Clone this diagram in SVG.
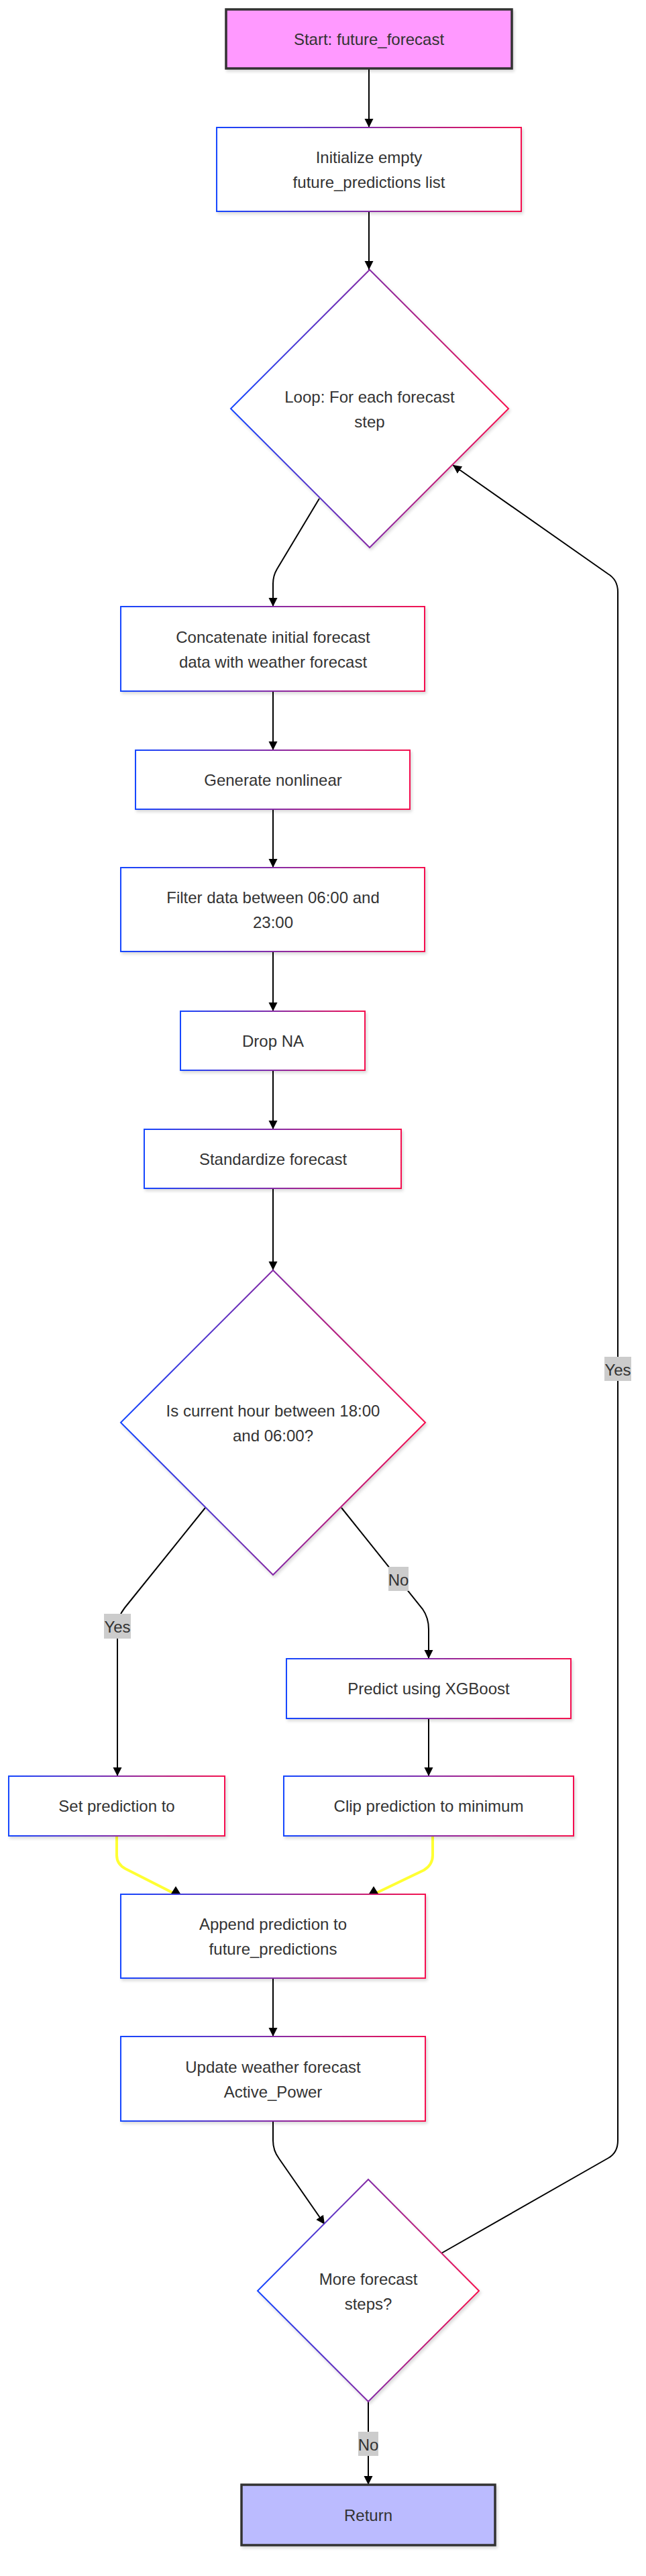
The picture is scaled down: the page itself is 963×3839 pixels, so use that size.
<svg xmlns="http://www.w3.org/2000/svg" width="963" height="3839" viewBox="0 0 963 3839">
<style>
.n{fill:#ffffff;stroke:url(#g);stroke-width:2;filter:url(#sh)}
.term{stroke:#333333;stroke-width:3.5;filter:url(#sh)}
.t{font-family:"Liberation Sans",Arial,Helvetica,sans-serif;font-size:24px;fill:#333333;text-anchor:middle;dominant-baseline:central}
.e{fill:none;stroke:#000000;stroke-width:2;marker-end:url(#arr)}
.y{fill:none;stroke:#ffff33;stroke-width:4;marker-end:url(#arrUp)}
.lb{fill:#cccccc}
</style>
<defs>
<linearGradient id="g" x1="0" y1="0" x2="1" y2="0">
<stop offset="0" stop-color="#1546ff"/>
<stop offset="1" stop-color="#f5114f"/>
</linearGradient>
<filter id="sh" x="-10%" y="-10%" width="120%" height="120%">
<feDropShadow dx="2" dy="3" stdDeviation="2" flood-color="#000000" flood-opacity="0.15"/>
</filter>
<marker id="arr" markerUnits="userSpaceOnUse" markerWidth="14" markerHeight="14" refX="13" refY="6.5" orient="auto">
<path d="M0,0 L13,6.5 L0,13 z" fill="#000000"/>
</marker>
<marker id="arrUp" markerUnits="userSpaceOnUse" markerWidth="16" markerHeight="16" refX="0" refY="7.5" orient="-90">
<path d="M0,0 L12,7.5 L0,15 z" fill="#000000"/>
</marker>
</defs>
<rect width="963" height="3839" fill="#ffffff"/>
<g id="connectors">
<path class="e" d="M550,102 L550,190"/>
<path class="e" d="M550,315 L550,402"/>
<path class="e" d="M476,743 L413,848 Q407,858 407,870 L407,904"/>
<path class="e" d="M407,1030 L407,1118"/>
<path class="e" d="M407,1206 L407,1293"/>
<path class="e" d="M407,1418 L407,1507"/>
<path class="e" d="M407,1595 L407,1683"/>
<path class="e" d="M407,1771 L407,1893"/>
<path class="e" d="M306,2247 L186,2396 Q175,2410 175,2425 L175,2647"/>
<path class="e" d="M509,2247 L630,2398 Q639,2411 639,2428 L639,2472"/>
<path class="e" d="M639,2561 L639,2647"/>
<path class="y" d="M174,2736 L174,2765 Q174,2778 187,2785 L262,2823"/>
<path class="y" d="M645,2736 L645,2765 Q645,2779 632,2787 L557,2823"/>
<path class="e" d="M407,2948 L407,3035"/>
<path class="e" d="M407,3161 L407,3190 Q407,3205 416,3217 L484,3315"/>
<path class="e" d="M658,3358 L907,3216 Q921,3208 921,3190 L921,882 Q921,864 906,855 L675,693"/>
<path class="e" d="M549,3579 L549,3703"/>
<rect class="lb" x="155" y="2405" width="40" height="37"/>
<text class="t" x="175" y="2424">Yes</text>
<rect class="lb" x="579" y="2335" width="30" height="36"/>
<text class="t" x="594" y="2354">No</text>
<rect class="lb" x="901" y="2022" width="40" height="36"/>
<text class="t" x="921" y="2041">Yes</text>
<rect class="lb" x="534" y="3624" width="30" height="36"/>
<text class="t" x="549" y="3643">No</text>
</g>
<g id="start">
<rect class="term" x="337" y="14" width="426" height="88" fill="#ff99ff"/>
<text class="t" x="550" y="58">Start: future_forecast</text>
</g>
<g id="init">
<rect class="n" x="323" y="190" width="454" height="125"/>
<text class="t" x="550" y="234">Initialize empty</text>
<text class="t" x="550" y="271">future_predictions list</text>
</g>
<g id="loop">
<polygon class="n" points="551,402 758,609 551,816 344,609"/>
<text class="t" x="551" y="591">Loop: For each forecast</text>
<text class="t" x="551" y="628">step</text>
</g>
<g id="concat">
<rect class="n" x="180" y="904" width="453" height="126"/>
<text class="t" x="407" y="949">Concatenate initial forecast</text>
<text class="t" x="407" y="986">data with weather forecast</text>
</g>
<g id="generate">
<rect class="n" x="202" y="1118" width="409" height="88"/>
<text class="t" x="407" y="1162">Generate nonlinear</text>
</g>
<g id="filter">
<rect class="n" x="180" y="1293" width="453" height="125"/>
<text class="t" x="407" y="1337">Filter data between 06:00 and</text>
<text class="t" x="407" y="1374">23:00</text>
</g>
<g id="dropna">
<rect class="n" x="269" y="1507" width="275" height="88"/>
<text class="t" x="407" y="1551">Drop NA</text>
</g>
<g id="standardize">
<rect class="n" x="215" y="1683" width="383" height="88"/>
<text class="t" x="407" y="1727">Standardize forecast</text>
</g>
<g id="hourcheck">
<polygon class="n" points="407,1893 634,2120 407,2347 180,2120"/>
<text class="t" x="407" y="2102">Is current hour between 18:00</text>
<text class="t" x="407" y="2139">and 06:00?</text>
</g>
<g id="predict">
<rect class="n" x="427" y="2472" width="424" height="89"/>
<text class="t" x="639" y="2516">Predict using XGBoost</text>
</g>
<g id="setpred">
<rect class="n" x="13" y="2647" width="322" height="89"/>
<text class="t" x="174" y="2691">Set prediction to</text>
</g>
<g id="clip">
<rect class="n" x="423" y="2647" width="432" height="89"/>
<text class="t" x="639" y="2691">Clip prediction to minimum</text>
</g>
<g id="append">
<rect class="n" x="180" y="2823" width="454" height="125"/>
<text class="t" x="407" y="2867">Append prediction to</text>
<text class="t" x="407" y="2904">future_predictions</text>
</g>
<g id="update">
<rect class="n" x="180" y="3035" width="454" height="126"/>
<text class="t" x="407" y="3080">Update weather forecast</text>
<text class="t" x="407" y="3117">Active_Power</text>
</g>
<g id="more">
<polygon class="n" points="549,3248 714,3414 549,3579 384,3414"/>
<text class="t" x="549" y="3396">More forecast</text>
<text class="t" x="549" y="3433">steps?</text>
</g>
<g id="return">
<rect class="term" x="360" y="3703" width="378" height="90" fill="#bbbbff"/>
<text class="t" x="549" y="3748">Return</text>
</g>
</svg>
